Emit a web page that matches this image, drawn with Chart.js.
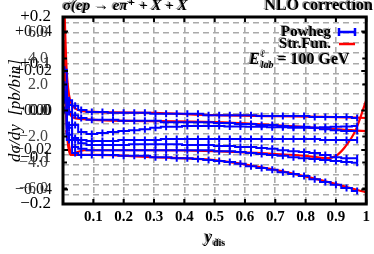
<!DOCTYPE html>
<html>
<head>
<meta charset="utf-8">
<script src="https://cdn.jsdelivr.net/npm/chart.js@4"></script>
<style>
  html, body { margin: 0; padding: 0; background: #fff; }
  #wrap { width: 374px; height: 254px; }
</style>
</head>
<body>
<div id="wrap"><canvas id="chart" width="374" height="254"></canvas></div>
<script>
// bin centres in y_dis
const binX = [0.005, 0.02, 0.04, 0.06, 0.095, 0.13, 0.165, 0.2, 0.235, 0.27, 0.305, 0.34, 0.375, 0.41, 0.445,
              0.48, 0.515, 0.55, 0.585, 0.62, 0.655, 0.69, 0.725, 0.76, 0.795, 0.83, 0.865, 0.9, 0.935, 0.97];

// Powheg NLO corrections (blue, with error bars)
const powhegA = [0.040, 0.022, 0.010, 0.001, -0.003, -0.003, -0.005, -0.005, -0.005, -0.005, -0.007, -0.007, -0.007, -0.007, -0.007,
                 -0.010, -0.010, -0.010, -0.010, -0.010, -0.012, -0.012, -0.012, -0.012, -0.012, -0.014, -0.014, -0.014, -0.014, -0.016];
const powhegB = [0.055, 0.012, -0.010, -0.016, -0.020, -0.020, -0.020, -0.022, -0.022, -0.022, -0.022, -0.025, -0.025, -0.025, -0.025,
                 -0.025, -0.027, -0.027, -0.029, -0.029, -0.031, -0.031, -0.033, -0.035, -0.035, -0.037, -0.040, -0.042, -0.044, -0.044];
const powhegC = [0.087, -0.003, -0.031, -0.046, -0.050, -0.048, -0.046, -0.044, -0.042, -0.040, -0.037, -0.035, -0.035, -0.033, -0.033,
                 -0.033, -0.033, -0.034, -0.034, -0.035, -0.035, -0.036, -0.036, -0.037, -0.037, -0.037, -0.036, -0.035, -0.034, -0.033];
const powhegD = [0.033, -0.031, -0.059, -0.063, -0.065, -0.065, -0.065, -0.063, -0.063, -0.063, -0.063, -0.061, -0.061, -0.061, -0.061,
                 -0.061, -0.061, -0.061, -0.061, -0.061, -0.061, -0.061, -0.061, -0.061, -0.061, -0.061, -0.063, -0.063, -0.063, -0.063];
const powhegE = [0.022, -0.052, -0.078, -0.082, -0.085, -0.085, -0.085, -0.085, -0.085, -0.085, -0.085, -0.085, -0.085, -0.085, -0.085,
                 -0.085, -0.087, -0.087, -0.089, -0.091, -0.093, -0.095, -0.097, -0.100, -0.102, -0.104, -0.106, -0.108, -0.110, -0.112];
const powhegF = [0.001, -0.063, -0.091, -0.095, -0.095, -0.095, -0.095, -0.097, -0.097, -0.097, -0.100, -0.100, -0.102, -0.102, -0.104,
                 -0.106, -0.108, -0.110, -0.114, -0.119, -0.123, -0.127, -0.132, -0.136, -0.140, -0.147, -0.153, -0.159, -0.166, -0.172];
const powhegG = [0.027, -0.037, -0.063, -0.070, -0.074, -0.074, -0.074, -0.074, -0.072, -0.072, -0.072, -0.072, -0.072, -0.074, -0.074,
                 -0.074, -0.076, -0.076, -0.078, -0.078, -0.080, -0.082, -0.085, -0.087, -0.089, -0.091, -0.095, -0.100, -0.102, -0.102];

// structure function curves (red)
const strFunX1 = [0.002, 0.006, 0.012, 0.02, 0.03, 0.05, 0.1, 0.3, 0.5, 0.7, 0.9, 1.0];
const strFunY1 = [0.30, 0.194, 0.087, 0.033, 0.012, 0.001, -0.003, -0.005, -0.010, -0.012, -0.014, -0.016];
const strFunX2 = [0.002, 0.008, 0.015, 0.025, 0.04, 0.07, 0.1, 0.3, 0.5, 0.7, 0.8, 0.87, 0.9, 0.93, 0.965, 1.0];
const strFunY2 = [0.151, 0.022, -0.063, -0.095, -0.091, -0.085, -0.085, -0.085, -0.087, -0.093, -0.097, -0.102, -0.097, -0.078, -0.042, 0.022];
const strFunX3 = [0.01, 0.03, 0.06, 0.1, 0.3, 0.5, 0.7, 0.85, 1.0];
const strFunY3 = [-0.042, -0.095, -0.095, -0.095, -0.100, -0.106, -0.127, -0.149, -0.175];
const strFunX4 = [0.005, 0.015, 0.03, 0.06, 0.1, 0.5, 1.0];
const strFunY4 = [0.108, 0.022, -0.014, -0.018, -0.020, -0.025, -0.044];

// tick labels of the overlaid axes
const xTicks = [0.1, 0.2, 0.3, 0.4, 0.5, 0.6, 0.7, 0.8, 0.9, 1];
const yTicksA = [-0.2, -0.1, 0, 0.1, 0.2];
const yTicksB = [-0.04, -0.02, 0, 0.02, 0.04];
const yTicksC = [-6, -4, -2, 0, 2, 4, 6];

const SERIF = "'Liberation Serif', 'DejaVu Serif', serif";
const BLUE = "#0000ff";
const RED = "#ff0000";

const pts = (xs, ys) => xs.map((x, i) => ({ x: x, y: ys[i] }));

function powhegSet(ys) {
  return {
    data: pts(binX, ys),
    borderColor: BLUE,
    backgroundColor: BLUE,
    borderWidth: 2,
    stepped: "middle",
    pointStyle: "line",
    pointRotation: 90,
    pointRadius: 3.5,
    pointBorderWidth: 2,
    order: 1
  };
}
function strFunSet(xs, ys) {
  return {
    data: pts(xs, ys),
    borderColor: RED,
    borderWidth: 2.2,
    pointRadius: 0,
    cubicInterpolationMode: "monotone",
    order: 2
  };
}

// keep only ticks that are listed
function keepTicks(list) {
  return scale => {
    scale.ticks = list.map(v => ({ value: v }));
  };
}
function signed(v, d) {
  if (Math.abs(v) < 1e-12) return (0).toFixed(d);
  return (v > 0 ? "+" : "\u2212") + Math.abs(v).toFixed(d);
}

// overlaid axes have zero width: open their label clip box to the left edge
const overlayAxes = {
  id: "overlayAxes",
  afterLayout(chart) {
    for (const id of ["yb", "yc"]) {
      chart.scales[id].left = 0;
    }
  }
};

// frame, inner tick marks and the hand-set texts
const decor = {
  id: "decor",
  afterDatasetsDraw(chart) {
    const { ctx, chartArea: a, scales } = chart;
    ctx.save();
    ctx.strokeStyle = "#000";
    ctx.lineWidth = 2;
    ctx.beginPath();
    for (const v of xTicks) {
      const px = scales.x.getPixelForValue(v);
      ctx.moveTo(px, a.bottom); ctx.lineTo(px, a.bottom - 5);
      ctx.moveTo(px, a.top); ctx.lineTo(px, a.top + 5);
    }
    for (const v of yTicksB) {
      const py = scales.yb.getPixelForValue(v);
      ctx.moveTo(a.left, py); ctx.lineTo(a.left + 5, py);
      ctx.moveTo(a.right, py); ctx.lineTo(a.right - 5, py);
    }
    for (const v of yTicksC) {
      const py = scales.yc.getPixelForValue(v);
      ctx.moveTo(a.left, py); ctx.lineTo(a.left + 4, py);
      ctx.moveTo(a.right, py); ctx.lineTo(a.right - 4, py);
    }
    ctx.stroke();
    ctx.lineWidth = 3;
    ctx.strokeRect(a.left, a.top, a.right - a.left, a.bottom - a.top);
    ctx.restore();
  },
  afterDraw(chart) {
    const { ctx, chartArea: a } = chart;
    ctx.save();
    ctx.textBaseline = "middle";

    function ghost(txt, x, y, align) {
      ctx.textAlign = align;
      ctx.fillStyle = "#999";
      ctx.fillText(txt, x - 1.5, y - 1);
      ctx.fillStyle = "#000";
      ctx.fillText(txt, x, y);
    }

    // process label
    ctx.font = "bold italic 15px " + SERIF;
    ghost("\u03c3(ep \u2192 e\u03c0\u207a + X + X", a.left, 6, "left");

    ctx.font = "bold 16px " + SERIF;
    ghost("NLO correction", 373, 6, "right");

    // legend
    ctx.font = "bold 15px " + SERIF;
    ghost("Powheg", 331, 32, "right");
    ghost("Str.Fun.", 331, 44, "right");

    ctx.strokeStyle = BLUE;
    ctx.lineWidth = 2.5;
    ctx.beginPath();
    ctx.moveTo(339, 32); ctx.lineTo(355, 32);
    ctx.moveTo(339, 28); ctx.lineTo(339, 36);
    ctx.moveTo(355, 28); ctx.lineTo(355, 36);
    ctx.stroke();
    ctx.strokeStyle = RED;
    ctx.beginPath();
    ctx.moveTo(339, 44); ctx.lineTo(355, 44);
    ctx.stroke();

    let x = 249;
    ctx.font = "bold italic 16px " + SERIF;
    ghost("E", x, 60, "left");
    x += ctx.measureText("E").width + 1;
    ctx.font = "bold italic 10px " + SERIF;
    ghost("\u2113", x, 54, "left");
    ghost("lab", x, 65, "left");
    x += ctx.measureText("lab").width + 4;
    ctx.font = "bold 16px " + SERIF;
    ghost("= 100 GeV", x, 60, "left");

    // x title
    ctx.font = "bold italic 16px " + SERIF;
    ghost("y", 205, 238, "left");
    ctx.font = "bold 10px " + SERIF;
    ghost("dis", 213, 243, "left");

    ctx.restore();
  }
};

new Chart(document.getElementById("chart"), {
  type: "line",
  data: {
    datasets: [
      powhegSet(powhegA), powhegSet(powhegB), powhegSet(powhegC), powhegSet(powhegD),
      powhegSet(powhegE), powhegSet(powhegF), powhegSet(powhegG),
      strFunSet(strFunX1, strFunY1), strFunSet(strFunX2, strFunY2),
      strFunSet(strFunX3, strFunY3), strFunSet(strFunX4, strFunY4)
    ]
  },
  options: {
    responsive: false,
    animation: false,
    layout: { padding: { top: 17, right: 6, left: 0, bottom: 0 } },
    plugins: { legend: { display: false }, tooltip: { enabled: false } },
    scales: {
      x: {
        type: "linear",
        min: 0,
        max: 1,
        afterBuildTicks: keepTicks([0].concat(xTicks)),
        afterFit: s => { s.height = 50; },
        grid: { color: "#aaa", lineWidth: 1.6, drawTicks: false },
        border: { display: false, dash: [6, 4] },
        ticks: {
          padding: 4,
          color: "#000",
          font: { family: SERIF, size: 15, weight: "bold" },
          callback: v => (v === 0 ? "" : v === 1 ? "1" : v.toFixed(1))
        }
      },
      y: {
        position: "left",
        weight: 10,
        min: -0.2,
        max: 0.2,
        afterBuildTicks: keepTicks(yTicksA),
        afterFit: s => { s.width = 63; },
        grid: { display: false },
        border: { display: false },
        title: {
          display: true,
          text: "d\u03c3/dy  [pb/bin]",
          color: "#000",
          padding: { top: 5, bottom: 0 },
          font: { family: SERIF, size: 17, style: "italic" }
        },
        ticks: {
          padding: 4,
          color: "#000",
          font: { family: SERIF, size: 17 },
          callback: v => signed(v, 1)
        }
      },
      yb: {
        position: "left",
        weight: 0,
        min: -0.04734,
        max: 0.04734,
        afterBuildTicks: keepTicks(yTicksB),
        afterFit: s => { s.width = 0; },
        grid: { display: false },
        border: { display: false },
        ticks: {
          padding: 3,
          color: "#111",
          font: { family: SERIF, size: 16 },
          callback: v => signed(v, 2)
        }
      },
      yc: {
        position: "left",
        weight: 0,
        min: -7.19,
        max: 7.19,
        afterBuildTicks: keepTicks(yTicksC),
        afterFit: s => { s.width = 0; },
        grid: { display: false },
        border: { display: false },
        ticks: {
          padding: 7,
          color: "#444",
          font: { family: SERIF, size: 16 },
          callback: v => (v < 0 ? "\u2212" + Math.abs(v).toFixed(1) : v.toFixed(1))
        }
      },
      yg: {
        position: "left",
        weight: 0,
        min: -0.889,
        max: 17.58,
        afterBuildTicks: keepTicks([0, 1, 2, 3, 4, 5, 6, 7, 8, 9, 10, 11, 12, 13, 14, 15, 16, 17]),
        afterFit: s => { s.width = 0; },
        grid: { color: "#aaa", lineWidth: 1.6, drawTicks: false },
        border: { display: false, dash: [6, 4] },
        ticks: { display: false }
      }
    }
  },
  plugins: [overlayAxes, decor]
});
</script>
</body>
</html>
